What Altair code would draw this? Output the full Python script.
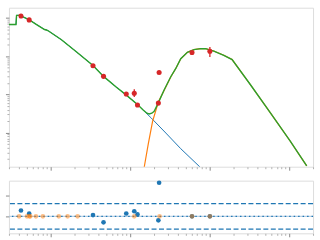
import altair as alt
import pandas as pd

# ---- data ----
# observed fluxes (top panel)
obs_x = [0.425, 0.539, 3.42, 4.64, 8.96, 11.3, 12.4, 23.2, 22.7, 60.1, 100.9]
obs_y = [1140, 898, 56.6, 29.7, 10.2, 10.7, 5.27, 37.7, 5.91, 125, 135]
obs_lo = [1100, 870, 55, 29, 9.9, 8.61, 5.1, 36.5, 5.7, 120, 95.9]
obs_hi = [1180, 925, 58, 30.4, 10.5, 13.6, 5.45, 39, 6.1, 130, 174]

# total model (green)
tot_x = [0.3, 0.368, 0.374, 0.398, 0.425, 0.542, 0.668, 0.841, 0.891, 0.944, 1.372,
         2.11, 3.42, 4.64, 6.68, 8.91, 12.5, 14.5, 16.3, 17.4, 18.8, 20.1, 22.6,
         26.8, 32.5, 37.6, 43.4, 52.6, 63.6, 77.2, 89.1, 113, 151, 192, 325, 579,
         1029, 1665]
tot_y = [678, 678, 1183, 1183, 1140, 898, 678, 503, 488, 460, 271,
         131, 57.3, 29.7, 15.7, 9.70, 5.34, 3.96, 3.21, 3.06, 3.21, 3.58, 5.91,
         13.1, 29.0, 47.9, 86, 127, 149, 158, 159, 137, 106, 82.1, 18.2, 3.31,
         0.601, 0.133]

# synchrotron component (blue)
syn_x = [0.3, 0.368, 0.374, 0.398, 0.425, 0.542, 0.668, 0.841, 0.891, 0.944, 1.372,
         2.11, 3.42, 4.64, 6.68, 8.91, 12.5, 18.3, 28.2, 43.4, 75.0, 89.1]
syn_y = [678, 678, 1183, 1183, 1140, 898, 678, 503, 488, 460, 271,
         131, 57.3, 29.7, 15.7, 9.70, 5.34, 2.45, 0.97, 0.377, 0.127, 0.0914]

# dust component (orange)
dust_x = [14.8, 15.1, 17.0, 19.2, 22.8, 26.8, 32.5, 37.6, 43.4, 52.6, 63.6, 77.2,
          89.1, 113, 151, 192, 325, 579, 1029, 1665]
dust_y = [0.097, 0.127, 0.518, 1.97, 6.50, 12.7, 28.5, 47.9, 86, 127, 149, 158,
          159, 137, 106, 82.1, 18.2, 3.31, 0.601, 0.133]

# residuals (bottom panel)
res_x = [0.425, 0.539, 3.42, 4.64, 8.96, 11.3, 12.4, 23.2, 22.7, 60.1, 100.9]
res_y = [1.36, 0.67, 0.28, -1.41, 0.67, 1.2, 0.44, 7.9, -0.95, 0.0, 0.0]
lim_x = [0.402, 0.506, 0.542, 0.557, 0.655, 0.801, 1.27, 1.64, 2.19, 11.3, 23.5,
         60.1, 100.9]
lim_y = [0.0] * 13
band = [-3, 3]
zero = [0]

x_ticks = [0.3, 0.4, 0.5, 0.6, 0.7, 0.8, 0.9, 1, 2, 3, 4, 5, 6, 7, 8, 9, 10,
           20, 30, 40, 50, 60, 70, 80, 90, 100, 200, 300, 400, 500, 600, 700,
           800, 900, 1000, 2000]
y_ticks = [0.2, 0.3, 0.4, 0.5, 0.6, 0.7, 0.8, 0.9, 1, 2, 3, 4, 5, 6, 7, 8, 9, 10,
           20, 30, 40, 50, 60, 70, 80, 90, 100, 200, 300, 400, 500, 600, 700,
           800, 900, 1000]
r_ticks = [0, 5]

# ---- chart ----
W = 306
xs = alt.Scale(type="log", domain=[0.3, 2000], nice=False)
ys = alt.Scale(type="log", domain=[0.127, 1875], nice=False)
rs = alt.Scale(domain=[-4, 8.4], nice=False, zero=False)

MAJOR = "abs(log(datum.value)/LN10 - round(log(datum.value)/LN10)) < 0.001"

def ax(vals, log=True):
    if log:
        size = {"condition": {"test": MAJOR, "value": 3.5}, "value": 2}
        color = {"condition": {"test": MAJOR, "value": "#8a8a8a"}, "value": "#b0b0b0"}
    else:
        size, color = 3.5, "#8a8a8a"
    return alt.Axis(values=vals, labels=False, title=None, grid=False,
                    domain=False, ticks=True, tickSize=size, tickColor=color,
                    tickWidth=1)

obs = pd.DataFrame({"x": obs_x, "y": obs_y, "lo": obs_lo, "hi": obs_hi})
tot = pd.DataFrame({"x": tot_x, "y": tot_y})
syn = pd.DataFrame({"x": syn_x, "y": syn_y})
dust = pd.DataFrame({"x": dust_x, "y": dust_y})
res = pd.DataFrame({"x": res_x, "y": res_y})
lim = pd.DataFrame({"x": lim_x, "y": lim_y})

X = alt.X("x:Q", scale=xs, axis=ax(x_ticks))
Y = alt.Y("y:Q", scale=ys, axis=ax(y_ticks))

blue = alt.Chart(syn).mark_line(color="#1f77b4", strokeWidth=1, clip=True).encode(x=X, y=Y)
orange = alt.Chart(dust).mark_line(color="#ff7f0e", strokeWidth=1.2, clip=True).encode(x=X, y=Y)
green = alt.Chart(tot).mark_line(color="#2ca02c", strokeWidth=1.4, clip=True).encode(x=X, y=Y)
err = alt.Chart(obs).mark_rule(color="#d62728", strokeWidth=1.3).encode(
    x=X, y=alt.Y("lo:Q", scale=ys, axis=ax(y_ticks)), y2="hi:Q")
pts = alt.Chart(obs).mark_circle(color="#d62728", size=26, opacity=1).encode(x=X, y=Y)

top = alt.layer(blue, orange, green, err, pts).properties(width=W, height=160)

R = alt.Y("y:Q", scale=rs, axis=ax(r_ticks, log=False))
bands = alt.Chart(pd.DataFrame({"y": band})).mark_rule(
    color="#1f77b4", strokeWidth=1.2, strokeDash=[5, 2.5]).encode(y=R)
zl = alt.Chart(pd.DataFrame({"y": zero})).mark_rule(
    color="#a9c6de", strokeWidth=1).encode(y=R)
zd = alt.Chart(pd.DataFrame({"y": zero})).mark_rule(
    color="#1f77b4", strokeWidth=1.2, strokeDash=[1.5, 3]).encode(y=R)
rb = alt.Chart(res).mark_circle(color="#1f77b4", size=22, opacity=1).encode(x=X, y=R)
ro = alt.Chart(lim).mark_circle(color="#ff7f0e", size=22, opacity=0.5).encode(x=X, y=R)

bottom = alt.layer(bands, zl, zd, rb, ro).properties(width=W, height=53)

chart = alt.vconcat(top, bottom, spacing=8).properties(
    padding={"left": 4, "top": 6, "right": 5, "bottom": 4}
).configure_view(stroke="#bfbfbf", strokeWidth=2).configure(background="white")

chart.save("out.html", embed_options={"renderer": "svg", "actions": False})
